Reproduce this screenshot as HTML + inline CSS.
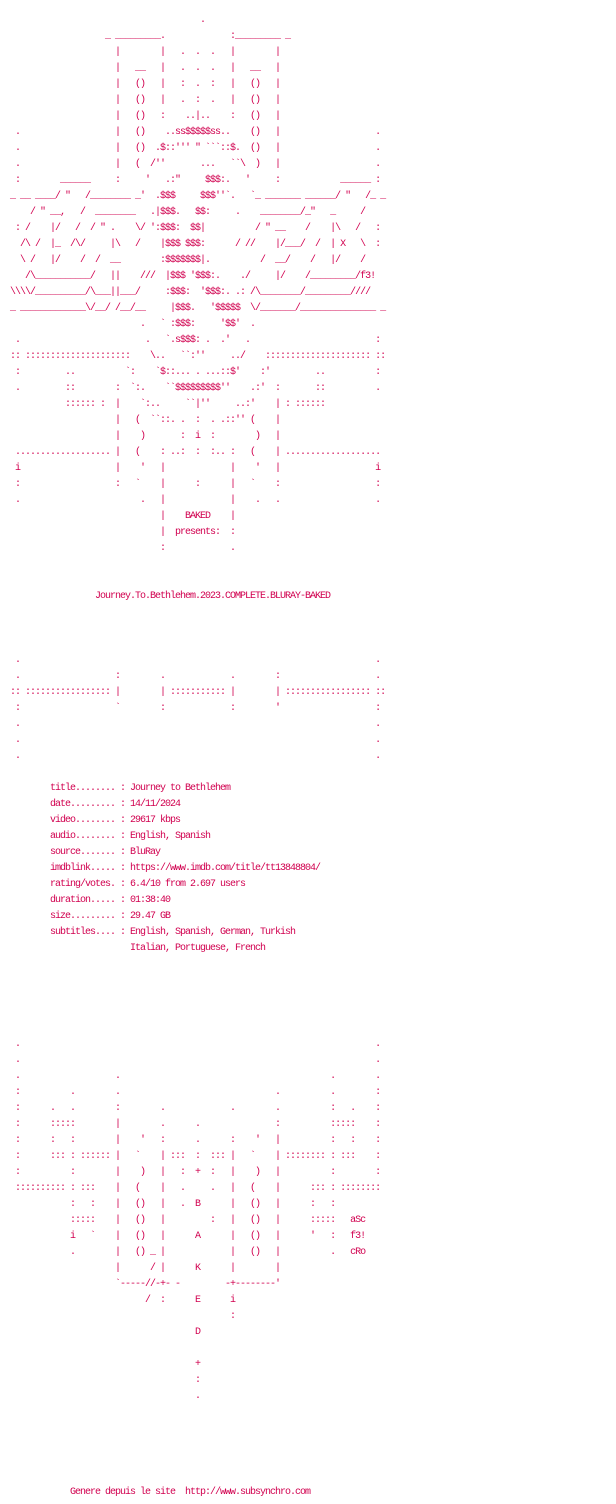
<!DOCTYPE html>
<html><head><meta charset="utf-8"><style>
html,body{margin:0;padding:0;background:#fff;width:616px;height:1504px;overflow:hidden}
pre{position:absolute;left:10px;top:13px;margin:0;font-family:"Liberation Mono",monospace;font-size:10px;letter-spacing:-1px;line-height:16px;color:#d1004f}
</style></head><body><pre>                                      .
                   _ _________.             :_________ _
                     |        |   .  .  .   |        |
                     |   __   |   .  .  .   |   __   |
                     |   ()   |   :  .  :   |   ()   |
                     |   ()   |   .  :  .   |   ()   |
                     |   ()   :    ..|..    :   ()   |
 .                   |   ()    ..ss$$$$$ss..    ()   |                   .
 .                   |   ()  .$::''' " &#96;&#96;&#96;::$.  ()   |                   .
 .                   |   (  /''       ...   &#96;&#96;\  )   |                   .
 :        ______     :     '   .:"     $$$:.   '     :            ______ :
_ __ ____/ "   /________ _'  .$$$     $$$''&#96;.   &#96;_ _______ ______/ "   /_ _
    / " __,   /  ________   .|$$$.   $$:     .    ________/_"   _     /
 : /    |/   /  / " .    \/ ':$$$:  $$|          / " __    /    |\   /   :
  /\ /  |_  /\/     |\   /    |$$$ $$$:      / //    |/___/  /  | X   \  :
  \ /   |/    /  /  __        :$$$$$$$|.          /  __/    /   |/    /
   /\___________/   ||    ///  |$$$ '$$$:.    ./     |/    /_________/f3!
\\\\/__________/\___||___/     :$$$:  '$$$:. .: /\________/_________////
_ _____________\/__/ /__/__     |$$$.   '$$$$$  \/_______/_______________ _
                          .   &#96; :$$$:     '$$'  .
 .                         .   &#96;.s$$$: .  .'   .                         :
:: :::::::::::::::::::::    \..   &#96;&#96;:''     ../    ::::::::::::::::::::: ::
 :         ..          &#96;:    &#96;$::... . ...::$'    :'         ..          :
 .         ::        :  &#96;:.    &#96;&#96;$$$$$$$$$''    .:'  :       ::          .
           :::::: :  |    &#96;:..     &#96;&#96;|''     ..:'    | : ::::::
                     |   (  &#96;&#96;::. .  :  . .::'' (    |
                     |    )       :  i  :        )   |
 ................... |   (    : ..:  :  :.. :   (    | ...................
 i                   |    '   |             |    '   |                   i
 :                   :   &#96;    |      :      |   &#96;    :                   :
 .                        .   |             |    .   .                   .
                              |    BAKED    |
                              |  presents:  :
                              :             .


                 Journey.To.Bethlehem.2023.COMPLETE.BLURAY-BAKED



 .                                                                       .
 .                   :        .             .        :                   .
:: ::::::::::::::::: |        | ::::::::::: |        | ::::::::::::::::: ::
 :                   &#96;        :             :        '                   :
 .                                                                       .
 .                                                                       .
 .                                                                       .

        title........ : Journey to Bethlehem
        date......... : 14/11/2024
        video........ : 29617 kbps
        audio........ : English, Spanish
        source....... : BluRay
        imdblink..... : https://www.imdb.com/title/tt13848804/
        rating/votes. : 6.4/10 from 2.697 users
        duration..... : 01:38:40
        size......... : 29.47 GB
        subtitles.... : English, Spanish, German, Turkish
                        Italian, Portuguese, French





 .                                                                       .
 .                                                                       .
 .                   .                                          .        .
 :          .        .                               .          .        :
 :      .   .        :        .             .        .          :   .    :
 :      :::::        |        .      .               :          :::::    :
 :      :   :        |    '   :      .      :    '   |          :   :    :
 :      ::: : :::::: |   &#96;    | :::  :  ::: |   &#96;    | :::::::: : :::    :
 :          :        |    )   |   :  +  :   |    )   |          :        :
 :::::::::: : :::    |   (    |   .     .   |   (    |      ::: : ::::::::
            :   :    |   ()   |   .  B      |   ()   |      :   :
            :::::    |   ()   |         :   |   ()   |      :::::   aSc
            i   &#96;    |   ()   |      A      |   ()   |      '   :   f3!
            .        |   () _ |             |   ()   |          .   cRo
                     |      / |      K      |        |
                     &#96;-----//-+- -         -+--------'
                           /  :      E      i
                                            :
                                     D

                                     +
                                     :
                                     .





            Genere depuis le site  http://www.subsynchro.com</pre></body></html>
